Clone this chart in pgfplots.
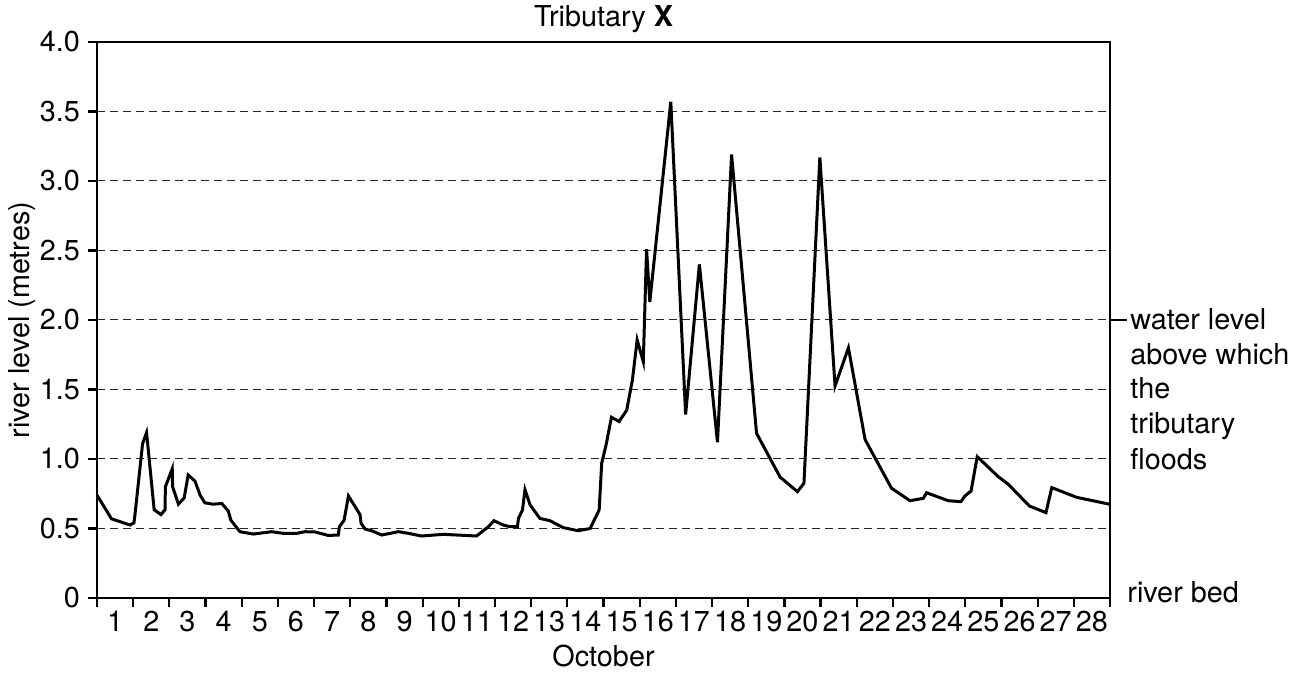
\documentclass[border=0pt]{standalone}
\usepackage{fontspec}
\setmainfont{TeX Gyre Heros}
\usepackage{pgfplots}
\pgfplotsset{compat=1.18}
\begin{document}
\begin{tikzpicture}[font=\fontsize{14.4}{17}\selectfont]
\path[use as bounding box] (-48.5pt,-37.5pt) rectangle (606pt,299pt);
\begin{axis}[
  at={(0,0)}, anchor=south west,
  scale only axis, width=506.5pt, height=278pt,
  xmin=0, xmax=28, ymin=0, ymax=4,
  clip=false,
  axis line style={line width=1.1pt},
  tick style={line width=1.1pt, black},
  tick align=outside,
  major tick length=4.5pt,
  xtick pos=bottom, ytick pos=left,
  /pgf/number format/assume math mode=true,
  ytick={0,0.5,1,1.5,2,2.5,3,3.5,4},
  yticklabels={0,0.5,1.0,1.5,2.0,2.5,3.0,3.5,4.0},
  yticklabel style={xshift=-0.5pt},
  xtick={0,1,...,28},
  xticklabels={},
  extra x ticks={0.5,1.5,...,27.5},
  extra x tick labels={1,2,3,4,5,6,7,8,9,10,11,12,13,14,15,16,17,18,19,20,21,22,23,24,25,26,27,28},
  extra x tick style={major tick length=0pt, xticklabel style={yshift=-3pt}},
  ymajorgrids=true,
  major grid style={dash pattern=on 4pt off 2.5pt, line width=0.5pt, black!85},
  title={Tributary \textbf{X}},
  title style={at={(axis description cs:0.5,1)}, anchor=center, yshift=5.5pt},
  xlabel={October},
  xlabel style={at={(axis description cs:0.5,0)}, anchor=center, yshift=-29pt},
  ylabel={river level (metres)},
  ylabel style={at={(axis description cs:0,0.5)}, anchor=center, yshift=37.5pt},
]
\addplot[black, line width=1.5pt, line join=miter, miter limit=10] coordinates {
(0,0.74) (0.40,0.57) (0.91,0.525) (1.02,0.54) (1.05,0.60) (1.26,1.11) (1.37,1.19)
(1.58,0.635) (1.77,0.60) (1.88,0.635) (1.89,0.80) (2.08,0.93) (2.09,0.80) (2.25,0.675)
(2.41,0.72) (2.52,0.885) (2.71,0.84) (2.85,0.74) (2.98,0.685) (3.21,0.675) (3.45,0.68)
(3.63,0.625) (3.70,0.56) (3.95,0.477) (4.32,0.46) (4.83,0.477) (5.15,0.465) (5.52,0.465)
(5.75,0.477) (6.03,0.475) (6.39,0.45) (6.67,0.453) (6.70,0.513) (6.83,0.56) (6.95,0.734)
(7.27,0.60) (7.30,0.537) (7.41,0.496) (7.59,0.484) (7.87,0.453) (8.33,0.477) (8.61,0.465)
(8.97,0.446) (9.57,0.458) (10.49,0.446) (10.82,0.513) (10.97,0.556) (11.23,0.525)
(11.41,0.513) (11.62,0.513) (11.65,0.573) (11.76,0.633) (11.83,0.78) (11.97,0.67)
(12.24,0.573) (12.52,0.556) (12.89,0.506) (13.30,0.484) (13.63,0.50) (13.88,0.633)
(13.95,0.97) (14.07,1.10) (14.22,1.30) (14.43,1.27) (14.64,1.35) (14.80,1.57)
(14.93,1.856) (15.10,1.70) (15.19,2.51) (15.28,2.13) (15.86,3.57) (16.27,1.32)
(16.65,2.40) (17.15,1.12) (17.54,3.19) (18.23,1.185) (18.88,0.87) (19.36,0.765)
(19.54,0.825) (19.98,3.17) (20.40,1.525) (20.77,1.80) (21.23,1.14) (21.96,0.79)
(22.47,0.70) (22.84,0.717) (22.93,0.757) (23.53,0.70) (23.88,0.693) (23.99,0.734)
(24.16,0.77) (24.33,1.017) (24.91,0.873) (25.19,0.818) (25.77,0.662) (26.23,0.614)
(26.39,0.794) (27.08,0.724) (28.0,0.674)
};
\draw[line width=1.1pt] (axis cs:28,2) -- ++(8.5pt,0);
\node[anchor=base west, inner sep=0pt, xshift=10pt] at (axis cs:28,1.935) {water level};
\node[anchor=base west, inner sep=0pt, xshift=10pt] at (axis cs:28,1.683) {above which};
\node[anchor=base west, inner sep=0pt, xshift=10pt] at (axis cs:28,1.432) {the};
\node[anchor=base west, inner sep=0pt, xshift=10pt] at (axis cs:28,1.180) {tributary};
\node[anchor=base west, inner sep=0pt, xshift=10pt] at (axis cs:28,0.928) {floods};
\node[anchor=base west, inner sep=0pt, xshift=8.5pt] at (axis cs:28,-0.03) {river bed};
\end{axis}
\end{tikzpicture}
\end{document}
